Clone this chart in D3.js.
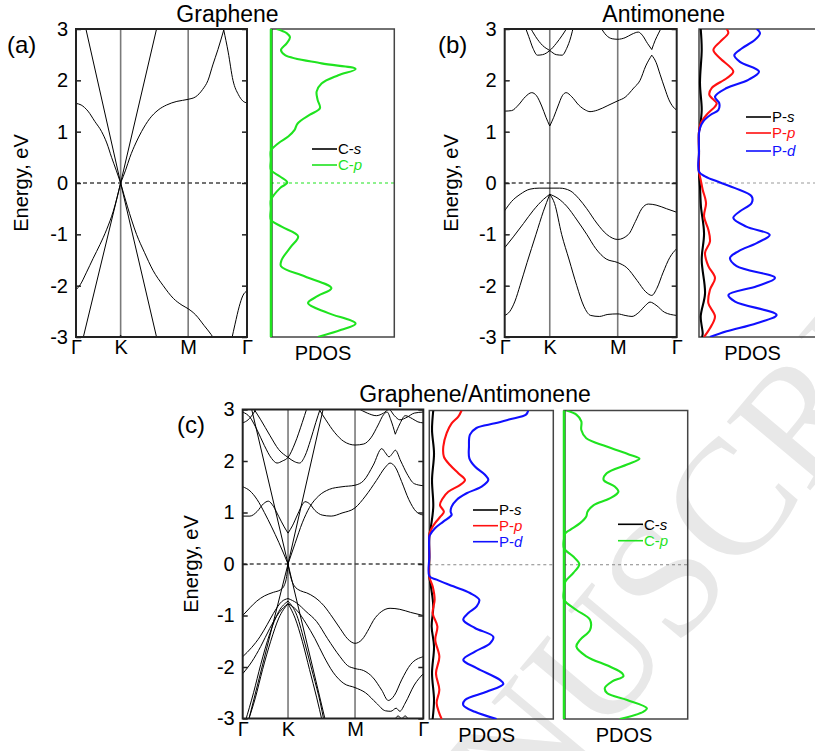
<!DOCTYPE html>
<html><head><meta charset="utf-8">
<script src="https://cdn.jsdelivr.net/npm/d3@7"></script>
<style>body{margin:0;background:#fff} svg{display:block} text{font-family:"Liberation Sans",Arial,sans-serif}</style>
</head><body><svg id="c" width="815" height="751"></svg>
<script>
// ---------- tick labels ----------
const kLabels = ["Γ","K","M","Γ"];
const energyTicks = [-3,-2,-1,0,1,2,3];
const kTicksA = [0,0.261,0.656,1];
const kTicksB = [0,0.262,0.657,1];
const kTicksC = [0,0.251,0.622,1];

// ---------- (a) graphene bands: [k, E] ----------
const bandsA = [
 [[0,1.55],[0.03,1.52],[0.07,1.40],[0.11,1.2],[0.15,1.0],[0.18,0.78],[0.208,0.5],[0.235,0.25],[0.261,0]],
 [[0.261,0],[0.29,0.25],[0.315,0.5],[0.35,0.78],[0.383,1.0],[0.43,1.25],[0.48,1.42],[0.53,1.52],[0.59,1.59],[0.656,1.63],[0.70,1.68],[0.74,1.82],[0.772,2.0],[0.80,2.3],[0.83,2.6],[0.864,2.98]],
 [[0.864,2.98],[0.89,2.55],[0.918,2.0],[0.95,1.72],[0.975,1.6],[1,1.56]],
 [[0,-2.08],[0.025,-1.98],[0.06,-1.75],[0.10,-1.47],[0.14,-1.2],[0.18,-0.9],[0.218,-0.55],[0.261,0]],
 [[0.261,0],[0.30,-0.45],[0.354,-1.0],[0.40,-1.35],[0.45,-1.7],[0.51,-2.0],[0.57,-2.25],[0.62,-2.38],[0.656,-2.45],[0.70,-2.57],[0.75,-2.78],[0.79,-2.95],[0.81,-3.05]],
 [[0.91,-3.05],[0.93,-2.75],[0.955,-2.4],[0.975,-2.2],[1,-2.1]],
 [[0.245,-3.05],[0.261,-2.97],[0.277,-3.05]]
];
const linesA = [
 [[0.058,3],[0.261,0],[0.471,-3]],
 [[0.043,-3],[0.261,0],[0.471,3]]
];

// ---------- (b) antimonene bands ----------
const bandsB = [
 [[0,1.40],[0.04,1.41],[0.08,1.52],[0.12,1.68],[0.157,1.76],[0.185,1.70],[0.215,1.50],[0.24,1.28],[0.262,1.11]],
 [[0.262,1.11],[0.285,1.28],[0.31,1.50],[0.335,1.70],[0.357,1.76],[0.39,1.68],[0.43,1.52],[0.47,1.42],[0.496,1.39],[0.54,1.42],[0.60,1.51],[0.657,1.60],[0.70,1.67],[0.75,1.85],[0.787,2.0],[0.82,2.28],[0.855,2.49]],
 [[0.855,2.49],[0.88,2.35],[0.903,2.12],[0.93,1.85],[0.955,1.62],[0.98,1.48],[1,1.42]],
 [[0.118,3.05],[0.14,2.85],[0.165,2.62],[0.19,2.49],[0.22,2.5],[0.262,2.58],[0.30,2.72],[0.335,2.88],[0.368,3.05]],
 [[0.145,3.05],[0.18,2.85],[0.22,2.68],[0.262,2.58],[0.30,2.5],[0.334,2.49],[0.36,2.62],[0.385,2.85],[0.40,3.05]],
 [[0.56,3.02],[0.59,2.88],[0.625,2.81],[0.657,2.80],[0.70,2.83],[0.74,2.9],[0.777,2.94],[0.80,2.88],[0.83,2.72],[0.855,2.60]],
 [[0.855,2.60],[0.875,2.78],[0.895,2.92],[0.91,3.02]],
 [[0,-0.54],[0.04,-0.36],[0.09,-0.22],[0.147,-0.12],[0.20,-0.10],[0.262,-0.10],[0.32,-0.10],[0.38,-0.15],[0.43,-0.30],[0.477,-0.5],[0.535,-0.78],[0.593,-1.0],[0.657,-1.10],[0.72,-1.0],[0.76,-0.75],[0.797,-0.5],[0.835,-0.41],[0.88,-0.43],[0.94,-0.50],[1,-0.57]],
 [[0,-1.26],[0.05,-1.05],[0.109,-0.79],[0.167,-0.53],[0.225,-0.32],[0.262,-0.22]],
 [[0.262,-0.22],[0.31,-0.30],[0.36,-0.45],[0.42,-0.72],[0.477,-1.0],[0.53,-1.28],[0.59,-1.48],[0.657,-1.55],[0.71,-1.65],[0.77,-1.9],[0.82,-2.12],[0.855,-2.19],[0.885,-2.05],[0.92,-1.75],[0.96,-1.45],[1,-1.28]],
 [[0,-2.58],[0.03,-2.5],[0.06,-2.3],[0.089,-2.0],[0.13,-1.55],[0.182,-1.0],[0.225,-0.55],[0.262,-0.22]],
 [[0.262,-0.22],[0.29,-0.4],[0.331,-1.0],[0.375,-1.5],[0.419,-2.0],[0.46,-2.4],[0.50,-2.58],[0.55,-2.6],[0.60,-2.56],[0.657,-2.55],[0.70,-2.58],[0.74,-2.6],[0.78,-2.52],[0.82,-2.38],[0.845,-2.32],[0.88,-2.38],[0.93,-2.52],[1,-2.58]]
];
const linesB = [];

// ---------- (c) graphene/antimonene bands ----------
const bandsC = [
 [[0,1.50],[0.04,1.42],[0.08,1.25],[0.12,1.0],[0.16,0.72],[0.20,0.42],[0.251,0]],
 [[0.251,0],[0.29,0.4],[0.33,0.8],[0.37,1.1],[0.42,1.32],[0.48,1.45],[0.55,1.5],[0.622,1.53],[0.67,1.62],[0.723,1.92],[0.77,2.24],[0.79,2.16],[0.81,2.08],[0.83,2.15],[0.845,2.21],[0.875,2.0],[0.91,1.75],[0.95,1.56],[1,1.52]],
 [[0,0.93],[0.04,0.93],[0.08,1.02],[0.115,1.17],[0.142,1.22],[0.17,1.12],[0.20,0.92],[0.23,0.72],[0.251,0.6]],
 [[0.251,0.6],[0.275,0.74],[0.305,0.97],[0.33,1.15],[0.345,1.21],[0.37,1.17],[0.40,1.04],[0.44,0.95],[0.49,0.93],[0.55,0.99],[0.622,1.09],[0.68,1.32],[0.74,1.62],[0.79,1.88],[0.816,1.96],[0.845,1.88],[0.88,1.6],[0.92,1.25],[0.96,1.02],[1,0.95]],
 [[0,2.95],[0.04,2.85],[0.08,2.6],[0.12,2.3],[0.16,2.05],[0.19,1.96],[0.22,2.0],[0.251,2.07],[0.29,2.35],[0.33,2.75],[0.355,3.02]],
 [[0.06,3.02],[0.10,2.8],[0.15,2.5],[0.20,2.22],[0.251,2.07],[0.285,1.99],[0.315,1.96],[0.345,2.1],[0.375,2.4],[0.405,2.75],[0.43,3.02]],
 [[0,2.74],[0.03,2.8],[0.06,2.93],[0.075,3.02]],
 [[0.42,3.02],[0.46,2.8],[0.51,2.55],[0.56,2.38],[0.622,2.31],[0.67,2.33],[0.71,2.45],[0.75,2.7],[0.78,2.9],[0.80,2.95],[0.82,2.8],[0.845,2.52]],
 [[0.845,2.52],[0.87,2.72],[0.9,2.88],[0.94,2.82],[0.97,2.76],[1,2.74]],
 [[0.64,3.02],[0.69,2.93],[0.74,2.88],[0.78,2.93],[0.81,3.0],[0.84,2.88],[0.87,2.8],[0.91,2.85],[0.95,2.93],[1,2.95]],
 [[0,-1.0],[0.04,-0.85],[0.078,-0.72],[0.12,-0.62],[0.17,-0.55],[0.21,-0.5],[0.232,-0.4],[0.245,-0.2],[0.251,0]],
 [[0.251,0],[0.262,-0.2],[0.285,-0.42],[0.32,-0.52],[0.354,-0.56],[0.40,-0.65],[0.447,-0.8],[0.50,-1.05],[0.539,-1.25],[0.58,-1.45],[0.622,-1.54],[0.66,-1.47],[0.70,-1.25],[0.723,-1.1],[0.77,-0.92],[0.816,-0.86],[0.87,-0.88],[0.93,-0.94],[1,-1.0]],
 [[0,-1.8],[0.05,-1.62],[0.096,-1.41],[0.135,-1.18],[0.17,-0.96],[0.216,-0.73],[0.251,-0.67]],
 [[0.251,-0.67],[0.30,-0.76],[0.35,-0.92],[0.41,-1.12],[0.47,-1.45],[0.539,-1.8],[0.58,-1.97],[0.622,-2.03],[0.67,-2.07],[0.72,-2.2],[0.77,-2.45],[0.806,-2.65],[0.84,-2.55],[0.88,-2.25],[0.93,-1.95],[1,-1.8]],
 [[0,-2.13],[0.05,-1.9],[0.10,-1.6],[0.15,-1.25],[0.20,-0.95],[0.251,-0.77]],
 [[0.251,-0.77],[0.30,-0.9],[0.35,-1.15],[0.40,-1.45],[0.45,-1.8],[0.50,-2.1],[0.56,-2.32],[0.622,-2.40],[0.68,-2.5],[0.74,-2.7],[0.79,-2.85],[0.82,-2.86],[0.85,-2.8],[0.87,-2.86],[0.90,-2.7],[0.95,-2.35],[1,-2.13]],
 [[0.03,-3.05],[0.07,-2.6],[0.11,-2.05],[0.155,-1.5],[0.20,-1.05],[0.251,-0.77]],
 [[0.251,-0.77],[0.29,-1.05],[0.33,-1.5],[0.37,-2.05],[0.41,-2.6],[0.44,-3.05]],
 [[0.015,-3.05],[0.06,-2.5],[0.10,-1.95],[0.15,-1.35],[0.20,-0.92],[0.251,-0.72]],
 [[0.251,-0.72],[0.30,-1.0],[0.345,-1.55],[0.39,-2.15],[0.43,-2.7],[0.45,-3.05]],
 [[0.84,-3.05],[0.86,-2.95],[0.88,-3.0],[0.9,-2.95],[0.92,-3.05]]
];
const linesC = [
 [[0.05,3],[0.251,0],[0.455,-3]],
 [[0.035,-3],[0.251,0],[0.445,3]]
];

// ---------- PDOS: [E, value] ----------
const pdosA_Cs = [[3,0.004],[-3,0.004]];
const pdosA_Cp = [[3.0,.046],[2.92,.127],[2.84,.154],[2.72,.127],[2.59,.081],[2.49,.114],[2.33,.41],[2.22,.686],[2.10,.546],[1.94,.41],[1.78,.37],[1.62,.378],[1.46,.397],[1.33,.316],[1.16,.216],[1.03,.19],[.905,.14],[.775,.06],[.63,0],[.45,0],[.256,0],[.127,.073],[0.01,.132],[-.10,.073],[-.33,0],[-.5,0],[-.717,0],[-.85,.086],[-1.04,.22],[-1.24,.162],[-1.5,.086],[-1.62,.081],[-1.82,.276],[-2.05,.49],[-2.2,.38],[-2.34,.30],[-2.53,.46],[-2.74,.686],[-2.86,.57],[-3.0,.38]];

const pdosB_Ps = [[3.0,.014],[2.6,.022],[1.95,.008],[1.42,.022],[1.1,.008],[1.0,0],[0.6,0],[0.19,0],[-0.07,.008],[-0.46,.016],[-0.98,.041],[-1.5,.022],[-2.15,.049],[-2.6,.014],[-2.93,.03],[-3.0,.025]];
const pdosB_Pp = [[3.0,.225],[2.92,.238],[2.75,.171],[2.59,.117],[2.43,.171],[2.17,.279],[2.04,.225],[1.85,.103],[1.72,.084],[1.55,.144],[1.49,.130],[1.33,.062],[1.16,.014],[1.0,0],[0.6,0],[.22,0],[.06,.014],[-.13,.030],[-.39,.057],[-.65,.041],[-.91,.076],[-1.14,.089],[-1.36,.049],[-1.62,.076],[-1.85,.130],[-2.08,.089],[-2.34,.076],[-2.60,.130],[-2.83,.089],[-3.0,.041]];
const pdosB_Pd = [[3.00,.469],[2.92,.496],[2.79,.455],[2.62,.347],[2.49,.287],[2.36,.333],[2.17,.488],[2.01,.401],[1.85,.225],[1.68,.130],[1.55,.165],[1.42,.157],[1.33,.095],[1.20,.035],[1.07,.008],[0.97,0],[0.6,0],[0.22,0],[0.13,.049],[0.01,.171],[-0.10,.293],[-0.26,.428],[-0.39,.428],[-0.55,.333],[-0.68,.279],[-0.85,.385],[-1.01,.575],[-1.17,.469],[-1.33,.320],[-1.46,.252],[-1.62,.306],[-1.85,.618],[-2.01,.469],[-2.18,.239],[-2.31,.293],[-2.57,.631],[-2.73,.469],[-2.89,.225],[-3.00,.089]];

const pdosC_Ps = [[3.0,.032],[2.62,.022],[2.17,.038],[1.65,.022],[1.13,.032],[.74,.013],[.55,0],[.15,0],[-.22,0],[-.42,.013],[-.81,.032],[-1.2,.019],[-1.59,.038],[-2.11,.022],[-2.63,.038],[-3.0,.027]];
const pdosC_Pp = [[3.0,.26],[2.88,.234],[2.75,.18],[2.56,.14],[2.30,.113],[2.10,.118],[1.94,.167],[1.78,.234],[1.65,.288],[1.55,.247],[1.42,.153],[1.29,.108],[1.16,.086],[1.03,.118],[.94,.091],[.81,.046],[.68,.013],[.58,0],[.2,0],[-.23,0],[-.42,.027],[-.68,.043],[-.94,.027],[-1.2,.065],[-1.46,.048],[-1.79,.081],[-2.11,.054],[-2.43,.081],[-2.69,.059],[-2.89,.081],[-3.0,.1]];
const pdosC_Pd = [[3.0,.798],[2.92,.78],[2.83,.65],[2.75,.53],[2.66,.38],[2.53,.328],[2.30,.32],[2.07,.323],[1.91,.368],[1.75,.449],[1.65,.476],[1.52,.422],[1.39,.301],[1.26,.22],[1.13,.18],[1.03,.172],[.97,.18],[.84,.113],[.71,.046],[.58,.005],[.55,0],[.15,0],[-.22,0],[-.29,.059],[-.42,.194],[-.55,.328],[-.68,.403],[-.81,.382],[-.94,.315],[-1.07,.274],[-1.23,.368],[-1.40,.516],[-1.53,.489],[-1.69,.368],[-1.85,.274],[-2.01,.382],[-2.24,.57],[-2.32,.597],[-2.47,.462],[-2.63,.288],[-2.73,.274],[-2.86,.368],[-3.0,.543]];
const pdosC_Cs = [[3,0.004],[-3,0.004]];
const pdosC_Cp = [[3.0,.02],[2.92,.10],[2.79,.14],[2.62,.14],[2.46,.18],[2.3,.345],[2.14,.53],[2.06,.61],[1.95,.51],[1.78,.345],[1.65,.32],[1.52,.41],[1.42,.44],[1.29,.37],[1.16,.24],[1.03,.19],[.94,.18],[.81,.13],[.68,.05],[.61,.01],[.5,0],[.32,0],[.16,.075],[.01,.124],[-.16,.075],[-.33,.01],[-.5,0],[-.68,0],[-.88,.10],[-1.07,.21],[-1.27,.21],[-1.46,.13],[-1.59,.10],[-1.78,.18],[-1.98,.37],[-2.11,.47],[-2.17,.48],[-2.27,.39],[-2.4,.33],[-2.5,.35],[-2.63,.51],[-2.79,.67],[-2.86,.64],[-3.0,.45]];

// ---------- drawing ----------
const svg = d3.select("#c");
const GREEN = "#1fe31f", RED = "#ff1010", BLUE = "#1010ff";

// watermark (behind everything)
svg.append("text").attr("transform","translate(596,660) rotate(-50)")
  .attr("x",-444).attr("y",55).attr("font-size",165)
  .style("font-family","'Liberation Serif',serif").attr("fill","#e8e8e8").text("MANUSCRIPT");

let clipN = 0;
function clip(x0,y0,w,h){
  const id = "cl"+(clipN++);
  svg.append("clipPath").attr("id",id).append("rect").attr("x",x0).attr("y",y0).attr("width",w).attr("height",h);
  return `url(#${id})`;
}

function drawBands(c){
  const x = d3.scaleLinear().domain([0,1]).range([c.x0,c.x1]);
  const y = d3.scaleLinear().domain([-3,3]).range([c.y1,c.y0]);
  const g = svg.append("g");
  g.selectAll("line.kl").data(c.kTicks.slice(1,3)).join("line").attr("class","kl")
    .attr("x1",d=>x(d)).attr("x2",d=>x(d)).attr("y1",c.y0).attr("y2",c.y1)
    .attr("stroke","#7a7a7a").attr("stroke-width",1.6);
  g.append("line").attr("x1",c.x0).attr("x2",c.x1).attr("y1",y(0)).attr("y2",y(0))
    .attr("stroke","#444").attr("stroke-width",1.4).attr("stroke-dasharray","4,3");
  const cg = g.append("g").attr("clip-path",clip(c.x0,c.y0,c.x1-c.x0,c.y1-c.y0));
  const smooth = d3.line().x(d=>x(d[0])).y(d=>y(d[1])).curve(d3.curveMonotoneX);
  const straight = d3.line().x(d=>x(d[0])).y(d=>y(d[1]));
  cg.selectAll("path.bd").data(c.bands).join("path").attr("class","bd").attr("d",smooth)
    .attr("fill","none").attr("stroke","#000").attr("stroke-width",1);
  cg.selectAll("path.ln").data(c.lines).join("path").attr("class","ln").attr("d",straight)
    .attr("fill","none").attr("stroke","#000").attr("stroke-width",1);
  g.append("rect").attr("x",c.x0).attr("y",c.y0).attr("width",c.x1-c.x0).attr("height",c.y1-c.y0)
    .attr("fill","none").attr("stroke","#222").attr("stroke-width",2);
  const la = g.append("g").attr("transform",`translate(${c.x0},0)`)
    .call(d3.axisLeft(y).tickValues(energyTicks).tickSizeInner(-5).tickSizeOuter(0).tickPadding(8).tickFormat(d=>String(d)));
  const ra = g.append("g").attr("transform",`translate(${c.x1},0)`)
    .call(d3.axisRight(y).tickValues(energyTicks).tickSizeInner(-5).tickSizeOuter(0).tickFormat(""));
  const ba = g.append("g").attr("transform",`translate(0,${c.y1})`)
    .call(d3.axisBottom(x).tickValues(c.kTicks).tickFormat((d,i)=>kLabels[i]).tickSize(0).tickPadding(3));
  [la,ra,ba].forEach(a=>{
    a.select(".domain").remove();
    a.selectAll(".tick line").attr("stroke","#222").attr("stroke-width",1.5);
    a.selectAll("text").attr("fill","#000").style("font-family","'Liberation Sans',Arial,sans-serif");
  });
  la.selectAll("text").attr("font-size",20);
  ba.selectAll("text").attr("font-size",20);
  g.append("text").attr("transform",`translate(${c.ylabX},${(c.y0+c.y1)/2}) rotate(-90)`)
    .attr("text-anchor","middle").attr("font-size",20).text("Energy, eV");
}

function drawPdos(c){
  const x = d3.scaleLinear().domain([0,1]).range([c.x0,c.x1]);
  const y = d3.scaleLinear().domain([-3,3]).range([c.y1,c.y0]);
  const g = svg.append("g");
  g.append("line").attr("x1",c.x0).attr("x2",c.x1).attr("y1",y(0)).attr("y2",y(0))
    .attr("stroke",c.zeroColor).attr("stroke-width",1.1).attr("stroke-dasharray","3,3");
  g.append("rect").attr("x",c.x0).attr("y",c.y0).attr("width",c.x1-c.x0).attr("height",c.y1-c.y0)
    .attr("fill","none").attr("stroke","#444").attr("stroke-width",1.5);
  const cg = g.append("g").attr("clip-path",clip(c.x0-2,c.y0,c.x1-c.x0+4,c.y1-c.y0));
  const line = d3.line().x(d=>x(d[1])).y(d=>y(d[0])).curve(d3.curveCatmullRom.alpha(0.5));
  cg.selectAll("path.pd").data(c.series).join("path").attr("class","pd")
    .attr("d",d=>line(d.values)).attr("fill","none").attr("stroke",d=>d.color).attr("stroke-width",2.1);
  if (c.baseColor) {
    g.append("line").attr("x1",c.x0).attr("x2",c.x0).attr("y1",c.y0).attr("y2",c.y1)
      .attr("stroke",c.baseColor).attr("stroke-width",2.5);
  }
  g.append("text").attr("x",c.labelX).attr("y",c.y1+23).attr("text-anchor","middle")
    .attr("font-size",20).text("PDOS");
  const lg = g.append("g").selectAll("g").data(c.series).join("g")
    .attr("transform",(d,i)=>`translate(${c.legX},${c.legY[i]})`);
  lg.append("line").attr("x1",0).attr("x2",25).attr("stroke",d=>d.color).attr("stroke-width",1.6);
  const t = lg.append("text").attr("x",26).attr("dy","0.35em").attr("font-size",15).attr("fill",d=>d.color);
  t.append("tspan").text(d=>d.name[0]+"-");
  t.append("tspan").style("font-style","italic").text(d=>d.name[1]);
}

// titles and panel labels
const titles = [["Graphene",227.5,22],["Antimonene",663.7,22],["Graphene/Antimonene",475,402]];
svg.selectAll("text.tt").data(titles).join("text").attr("class","tt")
  .attr("x",d=>d[1]).attr("y",d=>d[2]).attr("text-anchor","middle").attr("font-size",23).text(d=>d[0]);
const panelLabels = [["(a)",7,53],["(b)",438,53],["(c)",177,433]];
svg.selectAll("text.pl").data(panelLabels).join("text").attr("class","pl")
  .attr("x",d=>d[1]).attr("y",d=>d[2]).attr("font-size",24).text(d=>d[0]);

drawBands({x0:76,x1:247,y0:29,y1:337,kTicks:kTicksA,bands:bandsA,lines:linesA,ylabX:28});
drawPdos({x0:271,x1:394.3,y0:29,y1:337,zeroColor:GREEN,baseColor:GREEN,labelX:323,legX:312,legY:[149,165],
  series:[{name:["C","s"],color:"#000",values:pdosA_Cs},{name:["C","p"],color:GREEN,values:pdosA_Cp}]});

drawBands({x0:504.7,x1:676.7,y0:29,y1:337,kTicks:kTicksB,bands:bandsB,lines:linesB,ylabX:458});
drawPdos({x0:699,x1:822,y0:29,y1:337,zeroColor:"#999",baseColor:null,labelX:752.5,legX:746,legY:[117,133,151],
  series:[{name:["P","s"],color:"#000",values:pdosB_Ps},{name:["P","p"],color:RED,values:pdosB_Pp},{name:["P","d"],color:BLUE,values:pdosB_Pd}]});

drawBands({x0:242.7,x1:423.3,y0:409.5,y1:718.5,kTicks:kTicksC,bands:bandsC,lines:linesC,ylabX:198});
drawPdos({x0:429.3,x1:553.3,y0:410.5,y1:719,zeroColor:"#888",baseColor:null,labelX:486.7,legX:473,legY:[510,525.7,541.7],
  series:[{name:["P","s"],color:"#000",values:pdosC_Ps},{name:["P","p"],color:RED,values:pdosC_Pp},{name:["P","d"],color:BLUE,values:pdosC_Pd}]});
drawPdos({x0:564,x1:687.7,y0:410.5,y1:719,zeroColor:"#888",baseColor:GREEN,labelX:624,legX:618,legY:[524.3,540.7],
  series:[{name:["C","s"],color:"#000",values:pdosC_Cs},{name:["C","p"],color:GREEN,values:pdosC_Cp}]});
</script>
</body></html>
